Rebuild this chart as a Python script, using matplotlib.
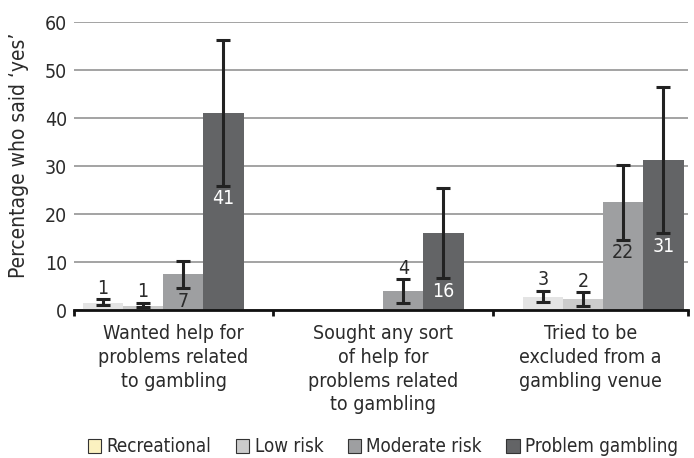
import numpy as np
import matplotlib
matplotlib.use('Agg')
import matplotlib.pyplot as plt
import matplotlib.patches as mpatches

plt.rcParams['font.family'] = ['DejaVu Sans']
plt.rcParams['font.stretch'] = 'condensed'

categories = ['Wanted help for\nproblems related\nto gambling',
              'Sought any sort\nof help for\nproblems related\nto gambling',
              'Tried to be\nexcluded from a\ngambling venue']
groups = ['Recreational', 'Low risk', 'Moderate risk', 'Problem gambling']

# bar heights per group (NaN = no bar)
recreational = [1.5, np.nan, 2.8]
low_risk = [0.8, np.nan, 2.3]
moderate_risk = [7.5, 4.0, 22.4]
problem = [41.1, 16.0, 31.2]

# confidence intervals (lower, upper)
rec_ci = [(1.0, 2.2), (np.nan, np.nan), (1.6, 4.0)]
low_ci = [(0.55, 1.5), (np.nan, np.nan), (0.8, 3.75)]
mod_ci = [(4.5, 10.3), (1.5, 6.4), (14.6, 30.2)]
prob_ci = [(25.9, 56.2), (6.6, 25.5), (16.0, 46.5)]

# value labels shown on chart
rec_lab = ['1', '', '3']
low_lab = ['1', '', '2']
mod_lab = ['7', '4', '22']
prob_lab = ['41', '16', '31']

BAR_COLORS = ['#e4e4e4', '#cbcbcb', '#9e9fa1', '#636466']
LEGEND_COLORS = ['#fbf1c0', '#cbcbcb', '#9e9fa1', '#636466']
TEXT = '#2b2b2b'
FS = 14

fig = plt.figure(figsize=(6.94, 4.58), dpi=100)
ax = fig.add_axes([74 / 694, 1 - 310 / 458, 614 / 694, 288 / 458])

x = np.arange(len(categories))
w = 0.183
series = [
    (recreational, rec_ci, rec_lab),
    (low_risk, low_ci, low_lab),
    (moderate_risk, mod_ci, mod_lab),
    (problem, prob_ci, prob_lab),
]

for i, (vals, ci, labs) in enumerate(series):
    xs = x + (i - 1.5) * w
    vals = np.array(vals, dtype=float)
    ax.bar(xs, vals, width=w, color=BAR_COLORS[i], zorder=2)
    lo = np.array([c[0] for c in ci])
    hi = np.array([c[1] for c in ci])
    ax.errorbar(xs, vals, yerr=[vals - lo, hi - vals], fmt='none',
                ecolor='#222222', elinewidth=2.2, capsize=5, capthick=2.2, zorder=3)
    for xi, v, l, h, lab in zip(xs, vals, lo, hi, labs):
        if not lab:
            continue
        if h < 11 and i < 2 or (i == 2 and h < 8):
            ax.text(xi, h + 0.3, lab, ha='center', va='bottom', fontsize=FS, color=TEXT)
        else:
            col = 'white' if i == 3 else TEXT
            ax.text(xi, l - 0.7, lab, ha='center', va='top', fontsize=FS, color=col)

xmin, xmax = -0.405, 2.386
ax.set_xlim(xmin, xmax)
ax.set_ylim(0, 60)
ax.set_yticks(np.arange(0, 61, 10))
ax.yaxis.grid(True, color='#8a8a8a', lw=1.1, zorder=0)
ax.set_axisbelow(True)
ax.tick_params(axis='y', length=0, labelsize=FS, labelcolor=TEXT, pad=5)

bounds = [xmin, 0.5, 1.5, xmax]
ax.set_xticks(bounds)
ax.set_xticklabels([])
ax.tick_params(axis='x', direction='out', length=4, width=2, color='#111111')
for a, b, lab in zip(bounds[:-1], bounds[1:], categories):
    ax.text((a + b) / 2, -2.9, lab, ha='center', va='top', fontsize=FS,
            color=TEXT, linespacing=1.32)

for side in ['left', 'right', 'top']:
    ax.spines[side].set_visible(False)
ax.spines['bottom'].set_color('#111111')
ax.spines['bottom'].set_linewidth(2)

ax.set_ylabel('Percentage who said \u2018yes\u2019', fontsize=15, color=TEXT)
ax.yaxis.set_label_coords(-45 / 614, (310 - 155) / 288)

handles = [mpatches.Patch(facecolor=c, edgecolor='#333333', lw=0.8, label=g)
           for c, g in zip(LEGEND_COLORS, groups)]
fig.legend(handles=handles, loc='center', bbox_to_anchor=(383 / 694, 1 - 447 / 458),
           ncol=4, frameon=False, fontsize=13.5, handlelength=0.7, handleheight=0.7,
           handletextpad=0.3, columnspacing=1.3, labelcolor=TEXT)

fig.savefig('out.png', dpi=100)
